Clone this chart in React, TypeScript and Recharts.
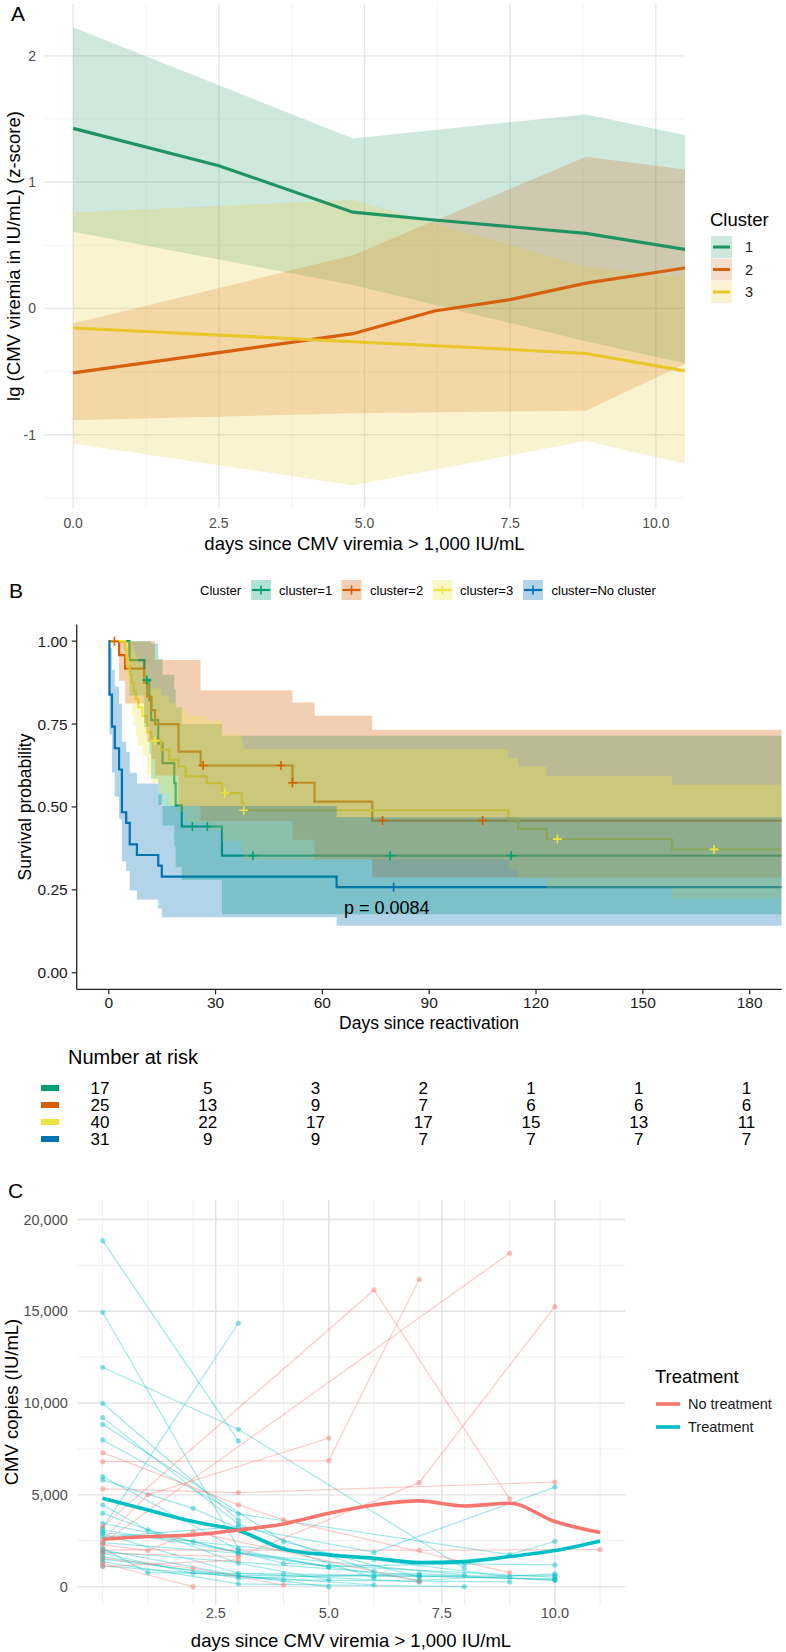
import React from "react";
import { ComposedChart, Line, Area, Scatter, XAxis, YAxis, CartesianGrid } from "recharts";

const FONT = "'Liberation Sans', Arial, Helvetica, sans-serif";

// ---------- Panel A: mean z-score per cluster with confidence band ----------
const aBandDays = [0, 4.8, 8.8, 10.5];
const c1BandLow = [0.607, 0.185, -0.26, -0.434];
const c1BandHigh = [2.225, 1.346, 1.536, 1.372];
const c2BandLow = [-0.886, -0.83, -0.81, -0.44];
const c2BandHigh = [-0.12, 0.42, 1.2, 1.1];
const c3BandLow = [-1.07, -1.4, -1.05, -1.23];
const c3BandHigh = [0.76, 0.86, 0.33, 0.25];

const c1FitDays = [0, 2.5, 4.8, 6.2, 8.8, 10.5];
const c1Fit = [1.425, 1.13, 0.762, 0.7, 0.594, 0.467];
const c2FitDays = [0, 2.5, 4.8, 6.2, 7.5, 8.8, 10.5];
const c2Fit = [-0.51, -0.35, -0.2, -0.02, 0.07, 0.2, 0.32];
const c3FitDays = [0, 2.5, 4.8, 7.5, 8.8, 10.5];
const c3Fit = [-0.155, -0.211, -0.264, -0.325, -0.357, -0.494];

const aTicksX = [0, 2.5, 5, 7.5, 10];
const aMinorX = [1.25, 3.75, 6.25, 8.75];
const aTicksY = [-1, 0, 1, 2];
const aMinorY = [-1.5, -0.5, 0.5, 1.5];

const A_COLORS = ["#1f9462", "#d75f0e", "#e8c72a"];

// ---------- Panel B: Kaplan-Meier by cluster ----------
const km1Days = [0, 5.8, 10.0, 11.4, 11.9, 13.9, 15.1, 18.4, 18.8, 20.5, 31.8, 189];
const km1Surv = [1, 0.943, 0.883, 0.822, 0.762, 0.692, 0.632, 0.572, 0.505, 0.441, 0.353, 0.353];
const km1Low = [1, 0.836, 0.741, 0.66, 0.585, 0.506, 0.444, 0.383, 0.318, 0.28, 0.176, 0.176];
const km1High = [1, 1, 1, 1, 0.993, 0.947, 0.899, 0.855, 0.8, 0.75, 0.715, 0.715];
const cen1Days = [10.7, 23.5, 27.7, 40.5, 79, 113];
const cen1Surv = [0.883, 0.441, 0.441, 0.353, 0.353, 0.353];

const km2Days = [0, 2.9, 4.6, 9.9, 10.8, 12.0, 13.0, 19.6, 25.8, 51.6, 57.8, 74, 189];
const km2Surv = [1, 0.958, 0.917, 0.875, 0.833, 0.792, 0.75, 0.667, 0.625, 0.573, 0.516, 0.459, 0.459];
const km2Low = [1, 0.881, 0.812, 0.752, 0.696, 0.645, 0.595, 0.503, 0.458, 0.401, 0.342, 0.287, 0.287];
const km2High = [1, 1, 1, 1, 1, 1, 0.943, 0.943, 0.852, 0.815, 0.775, 0.733, 0.733];
const cen2Days = [1.6, 26.5, 48.4, 51.6, 76.9, 105];
const cen2Surv = [1, 0.625, 0.625, 0.573, 0.459, 0.459];

const km3Days = [0, 4.6, 5.0, 5.4, 5.9, 6.4, 7.0, 7.6, 8.3, 9.5, 10.7, 12.0, 14.7, 17.0, 19.6, 21.6, 27.5, 31.8, 37.4, 37.9, 112.2, 115, 123, 158.2, 189];
const km3Surv = [1, 0.975, 0.95, 0.925, 0.9, 0.875, 0.85, 0.825, 0.8, 0.775, 0.725, 0.7, 0.672, 0.642, 0.622, 0.592, 0.572, 0.542, 0.512, 0.49, 0.462, 0.434, 0.403, 0.372, 0.372];
const km3Low = [1, 0.928, 0.884, 0.847, 0.812, 0.778, 0.746, 0.715, 0.685, 0.656, 0.599, 0.572, 0.54, 0.507, 0.485, 0.453, 0.431, 0.396, 0.363, 0.341, 0.312, 0.285, 0.254, 0.223, 0.223];
const km3High = [1, 1, 1, 1, 1, 0.984, 0.968, 0.952, 0.934, 0.916, 0.877, 0.857, 0.836, 0.813, 0.797, 0.774, 0.76, 0.72, 0.695, 0.675, 0.648, 0.622, 0.594, 0.567, 0.567];
const cen3Days = [13, 32.6, 37.9, 126, 170];
const cen3Surv = [0.7, 0.542, 0.49, 0.403, 0.372];

const km4Days = [0, 0.2, 0.9, 1.7, 2.9, 3.7, 4.9, 5.9, 7.9, 13.9, 14.9, 64, 189];
const km4Surv = [1, 0.839, 0.742, 0.677, 0.613, 0.484, 0.452, 0.387, 0.355, 0.323, 0.29, 0.258, 0.258];
const km4Low = [1, 0.719, 0.603, 0.531, 0.463, 0.336, 0.307, 0.248, 0.221, 0.194, 0.167, 0.142, 0.142];
const km4High = [1, 0.979, 0.913, 0.863, 0.811, 0.697, 0.666, 0.603, 0.571, 0.538, 0.503, 0.469, 0.469];
const cen4Days = [80];
const cen4Surv = [0.258];

const B_COLORS = ["#009E73", "#D55E00", "#F0E442", "#0072B2"];
const bLabels = ["cluster=1", "cluster=2", "cluster=3", "cluster=No cluster"];

const riskTimes = [0, 30, 60, 90, 120, 150, 180];
const risk1 = [17, 5, 3, 2, 1, 1, 1];
const risk2 = [25, 13, 9, 7, 6, 6, 6];
const risk3 = [40, 22, 17, 17, 15, 13, 11];
const risk4 = [31, 9, 9, 7, 7, 7, 7];

// ---------- Panel C: individual CMV copies ----------
const treated: number[][][] = [
  [[0, 18845], [3, 7937]],
  [[0, 14945], [3, 2091]],
  [[0, 11950], [3, 8573], [8, 1002]],
  [[0, 3200], [3, 14346]],
  [[0, 9987], [3, 3634]],
  [[0, 9207], [3, 3416], [6, 829]],
  [[0, 8844], [4, 2454], [7, 530]],
  [[0, 7991], [3, 3961], [9, 1746], [10, 2472]],
  [[0, 5994], [3, 2000], [5, 1053]],
  [[0, 5813], [2, 4265], [4, 2091], [6, 466]],
  [[0, 4451], [1, 3090], [3, 1819], [8, 639]],
  [[0, 3998], [3, 1274], [5, 363]],
  [[0, 3453], [2, 2454], [4, 1274], [10, 511]],
  [[0, 2872], [3, 730], [7, 257]],
  [[0, 2700], [3, 3271], [6, 1866], [10, 5421]],
  [[0, 2091], [1, 766], [4, 694], [10, 420]],
  [[0, 1819], [2, 730], [6, 102]],
  [[0, 1637], [3, 458], [7, 712], [10, 329]],
  [[0, 1365], [3, 149], [8, 0]],
  [[0, 1129], [4, 367], [9, 257]],
  [[0, 3100], [5, 1100], [8, 1237], [10, 1184]],
  [[0, 2400], [3, 1819], [7, 348], [10, 693]],
  [[0, 2950], [6, 1465], [9, 530]],
  [[0, 1500], [5, 0]],
  [[0, 2000], [3, 600], [6, 575], [10, 600]],
  [[0, 1900], [7, 600], [10, 380]],
];
const untreated: number[][][] = [
  [[0, 6809], [5, 6859], [7, 16743]],
  [[0, 2545], [1, 5000], [5, 8094]],
  [[0, 3271], [6, 16160], [9, 4776]],
  [[0, 2364], [9, 18159]],
  [[0, 1819], [3, 1637], [7, 5664], [10, 15251]],
  [[0, 5320], [3, 5122], [10, 5700]],
  [[0, 7299], [3, 4451], [4, 3634], [9, 766]],
  [[0, 2273], [1, 1964], [2, 2999], [7, 290]],
  [[0, 2000], [7, 1982], [11, 2018]],
  [[0, 1546], [2, 1002], [4, 91]],
  [[0, 1274], [2, 0]],
  [[0, 1093], [3, 1455]],
];
const meanDays = [0, 1, 2, 3, 4, 5, 6, 7, 8, 9, 10, 11];
const meanUntreated = [2580, 2727, 2817, 3090, 3417, 3999, 4451, 4669, 4396, 4542, 3544, 2945];
const meanTreated = [4814, 4179, 3544, 3053, 2055, 1729, 1547, 1311, 1365, 1637, 1964, 2490];

const cTicksX = [2.5, 5, 7.5, 10];
const cMinorX = [0, 1, 2, 3, 4, 5, 6, 7, 8, 9, 10, 11];
const cTicksY = [0, 5000, 10000, 15000, 20000];
const cMinorY = [2500, 7500, 12500, 17500];

const RED = "#F8766D";
const TEAL = "#00BFC4";

const series = (xs: number[], ys: number[]) => xs.map((x, i) => ({ x, y: ys[i] }));
const band = (xs: number[], lo: number[], hi: number[]) => xs.map((x, i) => ({ x, band: [lo[i], hi[i]] }));
const pairs = (p: number[][]) => p.map(([t, v]) => ({ x: t, y: v }));

const tickGrey = { fill: "#4d4d4d", fontSize: 14, fontFamily: FONT };
const tickBlack = { fill: "#1a1a1a", fontSize: 15.5, fontFamily: FONT };

function PanelA() {
  const bands = [
    band(aBandDays, c1BandLow, c1BandHigh),
    band(aBandDays, c2BandLow, c2BandHigh),
    band(aBandDays, c3BandLow, c3BandHigh),
  ];
  const fits = [series(c1FitDays, c1Fit), series(c2FitDays, c2Fit), series(c3FitDays, c3Fit)];
  return (
    <ComposedChart width={786} height={560} margin={{ top: 4, right: 101, bottom: 12, left: 0 }}>
      <CartesianGrid verticalValues={aMinorX} horizontalValues={aMinorY} stroke="#f1f1f1" strokeWidth={0.8} />
      <CartesianGrid verticalValues={aTicksX} horizontalValues={aTicksY} stroke="#e6e6e6" strokeWidth={1.3} />
      <XAxis type="number" dataKey="x" domain={[-0.5, 10.5]} allowDataOverflow ticks={aTicksX}
        tickFormatter={(v: number) => v.toFixed(1)} axisLine={false} tickLine={false}
        tickSize={4} tickMargin={6} height={40} tick={tickGrey} />
      <YAxis type="number" domain={[-1.58, 2.41]} allowDataOverflow ticks={aTicksY} width={44}
        axisLine={false} tickLine={false} tickSize={4} tickMargin={4} tick={tickGrey} />
      {bands.map((d, i) => (
        <Area key={"b" + i} data={d} dataKey="band" type="linear" stroke="none" fill={A_COLORS[i]}
          fillOpacity={0.22} isAnimationActive={false} dot={false} activeDot={false} />
      ))}
      {fits.map((d, i) => (
        <Line key={"l" + i} data={d} dataKey="y" type="linear" stroke={A_COLORS[i]} strokeWidth={3.2}
          dot={false} activeDot={false} isAnimationActive={false} />
      ))}
    </ComposedChart>
  );
}

const crossShape = (color: string) => (p: any) => (
  <path d={`M${p.cx - 4.5},${p.cy}h9M${p.cx},${p.cy - 4.5}v9`} stroke={color} strokeWidth={1.6} fill="none" />
);

function PanelB() {
  const curves = [
    { d: km1Days, s: km1Surv, lo: km1Low, hi: km1High, cd: cen1Days, cs: cen1Surv },
    { d: km2Days, s: km2Surv, lo: km2Low, hi: km2High, cd: cen2Days, cs: cen2Surv },
    { d: km3Days, s: km3Surv, lo: km3Low, hi: km3High, cd: cen3Days, cs: cen3Surv },
    { d: km4Days, s: km4Surv, lo: km4Low, hi: km4High, cd: cen4Days, cs: cen4Surv },
  ];
  return (
    <ComposedChart width={786} height={430} margin={{ top: 24.6, right: 4.3, bottom: 10.7, left: 0 }}>
      <XAxis type="number" dataKey="x" domain={[-9, 189]} allowDataOverflow ticks={riskTimes}
        axisLine={{ stroke: "#222", strokeWidth: 1.3 }} tickLine={{ stroke: "#222", strokeWidth: 1.2 }}
        tickSize={5} tickMargin={3} height={30} tick={tickBlack} />
      <YAxis type="number" domain={[-0.05, 1.05]} allowDataOverflow ticks={[0, 0.25, 0.5, 0.75, 1]}
        tickFormatter={(v: number) => v.toFixed(2)} width={76.7}
        axisLine={{ stroke: "#222", strokeWidth: 1.3 }} tickLine={{ stroke: "#222", strokeWidth: 1.2 }}
        tickSize={5} tickMargin={4} tick={tickBlack} />
      {curves.map((c, i) => (
        <Line key={"s" + i} data={series(c.d, c.s)} dataKey="y" type="stepAfter" stroke={B_COLORS[i]}
          strokeWidth={2.2} dot={false} activeDot={false} isAnimationActive={false} zIndex={50} />
      ))}
      {curves.map((c, i) => (
        <Area key={"r" + i} data={band(c.d, c.lo, c.hi)} dataKey="band" type="stepAfter" stroke="none"
          fill={B_COLORS[i]} fillOpacity={0.3} dot={false} activeDot={false} isAnimationActive={false} />
      ))}
      {curves.map((c, i) => (
        <Scatter key={"c" + i} data={series(c.cd, c.cs)} dataKey="y" shape={crossShape(B_COLORS[i])}
          isAnimationActive={false} />
      ))}
    </ComposedChart>
  );
}

function PanelC() {
  return (
    <ComposedChart width={786} height={472} margin={{ top: 20, right: 161, bottom: 17, left: 0 }}>
      <CartesianGrid verticalValues={cMinorX} horizontalValues={cMinorY} stroke="#ededed" strokeWidth={0.9} />
      <CartesianGrid verticalValues={cTicksX} horizontalValues={cTicksY} stroke="#e3e3e3" strokeWidth={1.4} />
      <XAxis type="number" dataKey="x" domain={[-0.55, 11.55]} allowDataOverflow ticks={cTicksX}
        tickFormatter={(v: number) => v.toFixed(1)} axisLine={false} tickLine={false}
        tickSize={0} tickMargin={3} height={30} tick={{ ...tickGrey, fontSize: 14.5 }} />
      <YAxis type="number" domain={[-1000, 21060]} allowDataOverflow ticks={cTicksY} width={77.8}
        tickFormatter={(v: number) => v.toLocaleString("en-US")} axisLine={false} tickLine={false}
        tickSize={4} tickMargin={6} tick={{ ...tickGrey, fontSize: 14.5 }} />
      {treated.map((p, i) => (
        <Line key={"t" + i} data={pairs(p)} dataKey="y" type="linear" stroke={TEAL} strokeOpacity={0.38}
          strokeWidth={1.2} dot={{ r: 2.6, fill: TEAL, fillOpacity: 0.45, stroke: "none" }}
          activeDot={false} isAnimationActive={false} />
      ))}
      {untreated.map((p, i) => (
        <Line key={"u" + i} data={pairs(p)} dataKey="y" type="linear" stroke={RED} strokeOpacity={0.38}
          strokeWidth={1.2} dot={{ r: 2.6, fill: RED, fillOpacity: 0.45, stroke: "none" }}
          activeDot={false} isAnimationActive={false} />
      ))}
      <Line data={series(meanDays, meanTreated)} dataKey="y" type="monotone" stroke={TEAL} strokeWidth={3.6}
        dot={false} activeDot={false} isAnimationActive={false} />
      <Line data={series(meanDays, meanUntreated)} dataKey="y" type="monotone" stroke={RED} strokeWidth={3.6}
        dot={false} activeDot={false} isAnimationActive={false} />
    </ComposedChart>
  );
}

const T = ({ x, y, children, size = 14, anchor = "start", fill = "#000", rotate = 0 }: any) => (
  <text x={x} y={y} fontSize={size} textAnchor={anchor} dominantBaseline="central" fill={fill}
    fontFamily={FONT} transform={rotate ? `rotate(${rotate} ${x} ${y})` : undefined}>
    {children}
  </text>
);

function Overlay() {
  const aKeyY = [236, 258.5, 281];
  const bKeyX = [251, 341.5, 432.5, 523];
  const bLabelX = [279, 370, 460, 551.5];
  const risks = [risk1, risk2, risk3, risk4];
  const riskRowY = [1088, 1105, 1122, 1139];
  const riskX = (t: number) => 100 + (t / 30) * 107.75;
  return (
    <svg width={786} height={1652} style={{ position: "absolute", left: 0, top: 0, pointerEvents: "none" }}>
      {/* Panel A */}
      <T x={11} y={13} size={21}>A</T>
      <T x={13} y={256} size={18.5} anchor="middle" rotate={-90}>lg (CMV viremia in IU/mL) (z-score)</T>
      <T x={364.5} y={543} size={18.5} anchor="middle">days since CMV viremia &gt; 1,000 IU/mL</T>
      <T x={710} y={219} size={18.5}>Cluster</T>
      {aKeyY.map((y, i) => (
        <g key={"ak" + i}>
          <rect x={711} y={y} width={21} height={22} fill={A_COLORS[i]} fillOpacity={0.22} />
          <line x1={713} x2={730} y1={y + 11} y2={y + 11} stroke={A_COLORS[i]} strokeWidth={3} />
          <T x={745} y={y + 11} size={14.5} fill="#1a1a1a">{String(i + 1)}</T>
        </g>
      ))}

      {/* Panel B */}
      <T x={9} y={590} size={21}>B</T>
      <T x={200} y={590} size={13}>Cluster</T>
      {bKeyX.map((x, i) => (
        <g key={"bk" + i}>
          <rect x={x} y={580} width={20} height={20} fill={B_COLORS[i]} fillOpacity={0.3} />
          <line x1={x + 1} x2={x + 19} y1={590} y2={590} stroke={B_COLORS[i]} strokeWidth={2.2} />
          <line x1={x + 10} x2={x + 10} y1={585.5} y2={594.5} stroke={B_COLORS[i]} strokeWidth={1.6} />
          <T x={bLabelX[i]} y={590} size={13}>{bLabels[i]}</T>
        </g>
      ))}
      <T x={25} y={807} size={17.5} anchor="middle" rotate={-90}>Survival probability</T>
      <T x={429} y={1023} size={17.5} anchor="middle">Days since reactivation</T>
      <T x={344} y={908} size={18}>p = 0.0084</T>
      <T x={68} y={1057} size={20}>Number at risk</T>
      {risks.map((r, i) => (
        <g key={"rk" + i}>
          <rect x={41} y={riskRowY[i] - 3} width={18} height={6} fill={B_COLORS[i]} />
          {r.map((n, k) => (
            <T key={k} x={riskX(riskTimes[k])} y={riskRowY[i]} size={17} anchor="middle">{String(n)}</T>
          ))}
        </g>
      ))}

      {/* Panel C */}
      <T x={8} y={1190} size={21}>C</T>
      <T x={11} y={1402} size={18.5} anchor="middle" rotate={-90}>CMV copies (IU/mL)</T>
      <T x={351} y={1640} size={18.5} anchor="middle">days since CMV viremia &gt; 1,000 IU/mL</T>
      <T x={655} y={1376} size={18.5}>Treatment</T>
      <line x1={656} x2={680} y1={1404} y2={1404} stroke={RED} strokeWidth={3.6} />
      <T x={688} y={1404} size={14.5} fill="#1a1a1a">No treatment</T>
      <line x1={656} x2={680} y1={1427} y2={1427} stroke={TEAL} strokeWidth={3.6} />
      <T x={688} y={1427} size={14.5} fill="#1a1a1a">Treatment</T>
    </svg>
  );
}

export default function App() {
  return (
    <div style={{ position: "relative", width: 786, height: 1652, background: "#fff", fontFamily: FONT, overflow: "hidden" }}>
      <style>{"body{margin:0}"}</style>
      <div style={{ position: "absolute", left: 0, top: 0 }}><PanelA /></div>
      <div style={{ position: "absolute", left: 0, top: 600 }}><PanelB /></div>
      <div style={{ position: "absolute", left: 0, top: 1180 }}><PanelC /></div>
      <Overlay />
    </div>
  );
}
